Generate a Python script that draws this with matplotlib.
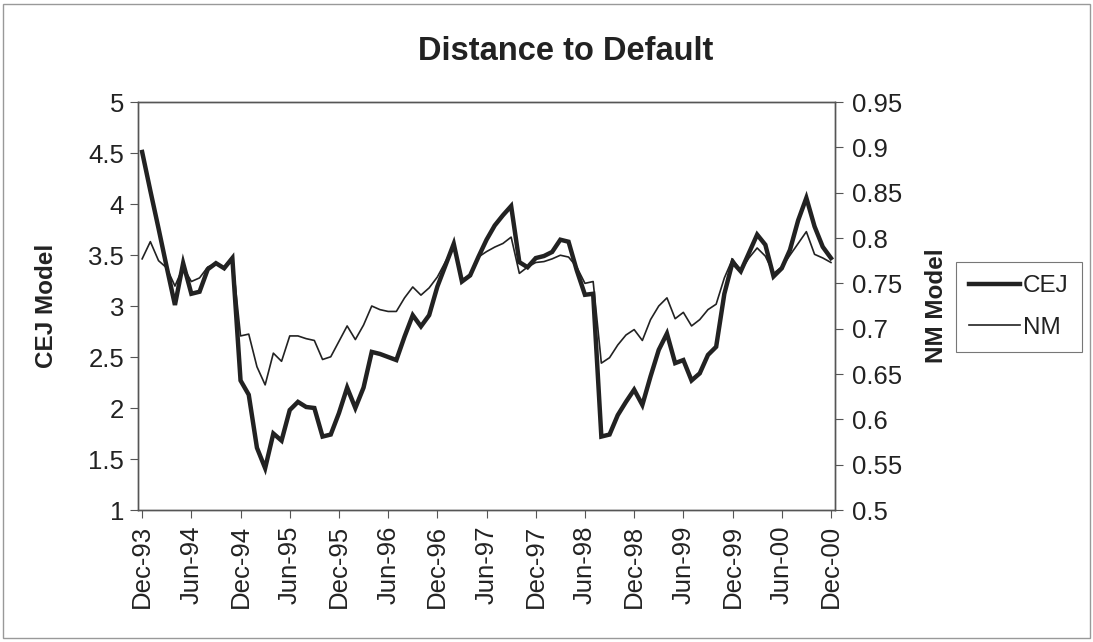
import numpy as np
import pandas as pd
import matplotlib
matplotlib.use("Agg")
import matplotlib.pyplot as plt
from matplotlib.patches import Rectangle

plt.rcParams['font.family'] = ['Liberation Sans', 'DejaVu Sans']

# monthly observations Dec-93 .. Dec-00
months = pd.date_range("1993-12-01", "2000-12-01", freq="MS")

cej = [4.51, 4.13, 3.76, 3.38, 3.01, 3.42, 3.12, 3.14, 3.36, 3.42, 3.37, 3.47,
       2.27, 2.13, 1.61, 1.41, 1.75, 1.68, 1.98, 2.06, 2.01, 2.00, 1.72, 1.74,
       1.95, 2.20, 2.00, 2.20, 2.55, 2.53, 2.50, 2.47, 2.70, 2.91, 2.80, 2.91,
       3.19, 3.40, 3.61, 3.24, 3.30, 3.48, 3.65, 3.79, 3.89, 3.98, 3.43, 3.38,
       3.47, 3.49, 3.53, 3.65, 3.63, 3.35, 3.11, 3.12, 1.72, 1.74, 1.93, 2.06,
       2.18, 2.03, 2.31, 2.57, 2.73, 2.44, 2.47, 2.27, 2.34, 2.52, 2.60, 3.12,
       3.43, 3.34, 3.52, 3.70, 3.60, 3.29, 3.37, 3.55, 3.84, 4.06, 3.78, 3.58,
       3.47]

nm = [0.777, 0.796, 0.775, 0.767, 0.747, 0.768, 0.752, 0.756, 0.768, 0.772, 0.768, 0.779,
      0.692, 0.694, 0.658, 0.638, 0.673, 0.664, 0.692, 0.692, 0.689, 0.687, 0.666, 0.669,
      0.686, 0.703, 0.688, 0.704, 0.725, 0.721, 0.719, 0.719, 0.734, 0.746, 0.737, 0.745,
      0.757, 0.774, 0.790, 0.754, 0.759, 0.779, 0.785, 0.790, 0.794, 0.801, 0.761, 0.768,
      0.773, 0.774, 0.777, 0.781, 0.779, 0.768, 0.750, 0.752, 0.662, 0.668, 0.682, 0.693,
      0.699, 0.687, 0.710, 0.725, 0.734, 0.711, 0.718, 0.703, 0.710, 0.721, 0.727, 0.756,
      0.777, 0.764, 0.778, 0.789, 0.780, 0.761, 0.768, 0.781, 0.794, 0.807, 0.782, 0.778,
      0.773]

tick_labels = ["Dec-93", "Jun-94", "Dec-94", "Jun-95", "Dec-95", "Jun-96", "Dec-96",
               "Jun-97", "Dec-97", "Jun-98", "Dec-98", "Jun-99", "Dec-99", "Jun-00", "Dec-00"]

x = np.arange(len(months))
ink = "#222222"

fig = plt.figure(figsize=(10.93, 6.42), dpi=100)
ax = fig.add_axes([0.1263, 0.2056, 0.6377, 0.6355])
ax2 = ax.twinx()

l1, = ax.plot(x, cej, color=ink, lw=3.2, solid_joinstyle='miter', label="CEJ")
l2, = ax2.plot(x, nm, color=ink, lw=1.2, label="NM")

ax.set_xlim(-0.5, len(x) - 0.5)
ax.set_ylim(1, 5)
ax2.set_ylim(0.5, 0.95)
ax.set_yticks(np.arange(1, 5.01, 0.5))
ax.set_yticklabels(["1", "1.5", "2", "2.5", "3", "3.5", "4", "4.5", "5"])
ax2.set_yticks(np.arange(0.5, 0.951, 0.05))
ax2.set_yticklabels(["0.5", "0.55", "0.6", "0.65", "0.7", "0.75", "0.8", "0.85", "0.9", "0.95"])
ax.set_xticks(x[::6])
ax.set_xticklabels(tick_labels, rotation=90)

for a in (ax, ax2):
    a.tick_params(direction='out', length=6, width=0.8, colors='#555555',
                  labelcolor=ink, labelsize=18.5)
    for s in a.spines.values():
        s.set_color('#555555')
        s.set_linewidth(1.0)
ax.tick_params(axis='y', pad=4)
ax2.tick_params(axis='y', pad=6)
ax.tick_params(axis='x', pad=5)

ax.set_ylabel("CEJ Model", fontsize=17.5, fontweight='bold', color=ink)
ax.yaxis.set_label_coords(-0.115, 0.5)
ax2.set_ylabel("NM Model", fontsize=17.5, fontweight='bold', color=ink, rotation=90)
ax2.yaxis.set_label_coords(1.129, 0.5)
fig.text(0.518, 0.92, "Distance to Default", ha='center', va='center',
         fontsize=23.5, fontweight='bold', color=ink)

leg = fig.legend(handles=[l1, l2], loc='center', bbox_to_anchor=(0.932, 0.522),
                 fontsize=17.5, frameon=True, fancybox=False, handlelength=2.1,
                 handletextpad=0.1, borderpad=0.55, labelspacing=0.8)
leg.get_frame().set_edgecolor('#555555')
leg.get_frame().set_linewidth(0.8)
for t in leg.get_texts():
    t.set_color(ink)

fig.patches.append(Rectangle((0.003, 0.006), 0.994, 0.988, transform=fig.transFigure,
                             fill=False, edgecolor='#999999', linewidth=1.0))

fig.savefig("out.png", dpi=100)
